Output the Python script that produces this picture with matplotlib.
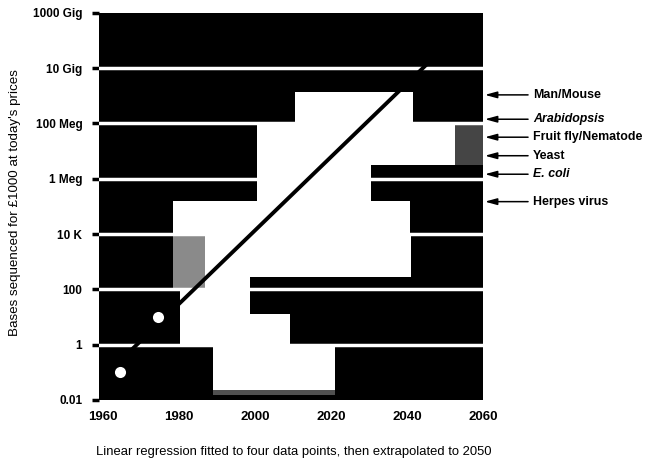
import matplotlib
matplotlib.use("Agg")
import matplotlib.pyplot as plt
from matplotlib.ticker import NullLocator

plt.rcParams['font.family'] = ['Liberation Sans', 'DejaVu Sans']

# ---------------- data ----------------
x_ticks = [1960, 1980, 2000, 2020, 2040, 2060]
y_ticks = [1e-2, 1e0, 1e2, 1e4, 1e6, 1e8, 1e10, 1e12]
y_tick_labels = ['0.01', '1', '100', '10 K', '1 Meg', '100 Meg', '10 Gig', '1000 Gig']

# measured data points (year, bases per £1000)
point_years = [1964.5, 1974.6]
point_bases = [0.1, 10]

# regression line, extrapolated to 2050
trend_years = [1964, 2050]
trend_bases = [0.22, 5.9e10]

# white "cloud" region: year ranges and log10(bases) ranges
cloud_year_start = [2010.6, 2000.6, 2000.6, 1978.5, 1987.0, 1987.0, 1980.3, 1980.3, 1989.0]
cloud_year_end   = [2041.6, 2052.6, 2030.5, 2040.8, 2041.1, 1998.7, 1998.7, 2009.2, 2021.1]
cloud_exp_low    = [8.0,    6.5,    5.2,    4.0,    2.45,   2.0,    1.11,   0.0,    -1.64]
cloud_exp_high   = [9.13,   8.0,    6.5,    5.2,    4.0,    2.45,   2.0,    1.11,   0.0]

# grey (dithered) transition zones
haze_year_start = [2052.6, 1978.5, 1989.0]
haze_year_end   = [2060.0, 1987.0, 2021.1]
haze_exp_low    = [6.5,    2.0,    -1.82]
haze_exp_high   = [8.0,    4.0,    -1.64]
haze_colors     = ['#454545', '#8a8a8a', '#505050']

# genome sizes on right-hand side
organisms = ['Man/Mouse', 'Arabidopsis', 'Fruit fly/Nematode', 'Yeast', 'E. coli', 'Herpes virus']
genome_sizes = [1.07e9, 1.41e8, 3.16e7, 6.76e6, 1.45e6, 1.48e5]
organism_italic = [False, True, False, False, True, False]

# ---------------- figure ----------------
W, H = 649, 468
fig = plt.figure(figsize=(W / 100, H / 100), dpi=100)
ax = fig.add_axes([99 / W, 1 - 400 / H, 384 / W, (400 - 12.7) / H])
ax.set_facecolor('black')
ax.set_yscale('log')
ax.set_xlim(1959, 2060)
ax.set_ylim(1e-2, 1e12)

for x0, x1, lo, hi in zip(cloud_year_start, cloud_year_end, cloud_exp_low, cloud_exp_high):
    ax.fill_between([x0, x1], 10 ** lo, 10 ** hi, facecolor='white',
                    edgecolor='none', linewidth=0, antialiased=False, zorder=1)

for x0, x1, lo, hi, c in zip(haze_year_start, haze_year_end, haze_exp_low,
                             haze_exp_high, haze_colors):
    ax.fill_between([x0, x1], 10 ** lo, 10 ** hi, facecolor=c,
                    edgecolor='none', linewidth=0, antialiased=False, zorder=1.5)

# white separators at labelled levels
for v in y_ticks[1:-1]:
    ax.axhline(v, color='white', lw=2.5, zorder=2)

ax.plot(trend_years, trend_bases, color='black', lw=2.8, solid_capstyle='butt', zorder=3)
ax.plot(point_years, point_bases, 'o', color='white', markersize=8,
        markeredgewidth=0, zorder=4)

for s in ax.spines.values():
    s.set_visible(False)

ax.set_xticks(x_ticks)
ax.set_xticklabels([str(v) for v in x_ticks], fontsize=9.5, fontweight='bold')
ax.tick_params(axis='x', length=0, pad=8)
ax.set_yticks(y_ticks)
ax.set_yticklabels(y_tick_labels, fontsize=8.5, fontweight='bold')
ax.yaxis.set_minor_locator(NullLocator())
ax.tick_params(axis='y', direction='out', length=5, width=2.5, color='black', pad=7)

for name, size, it in zip(organisms, genome_sizes, organism_italic):
    ax.annotate(name, xy=(1.005, size), xycoords=('axes fraction', 'data'),
                xytext=(1.13, size), textcoords=('axes fraction', 'data'),
                ha='left', va='center', fontsize=8.9, fontweight='bold',
                fontstyle='italic' if it else 'normal',
                arrowprops=dict(arrowstyle='-|>,head_length=0.8,head_width=0.22',
                                color='black', lw=1.1, shrinkA=1.5, shrinkB=0,
                                relpos=(0, 0.5)),
                annotation_clip=False)

fig.text(15 / W, 1 - 203 / H, "Bases sequenced for £1000 at today's prices",
         rotation=90, ha='center', va='center', fontsize=9.6)
fig.text(294 / W, 1 - 452 / H,
         'Linear regression fitted to four data points, then extrapolated to 2050',
         ha='center', va='center', fontsize=9.4)

fig.savefig('out.png', dpi=100, facecolor='white')
